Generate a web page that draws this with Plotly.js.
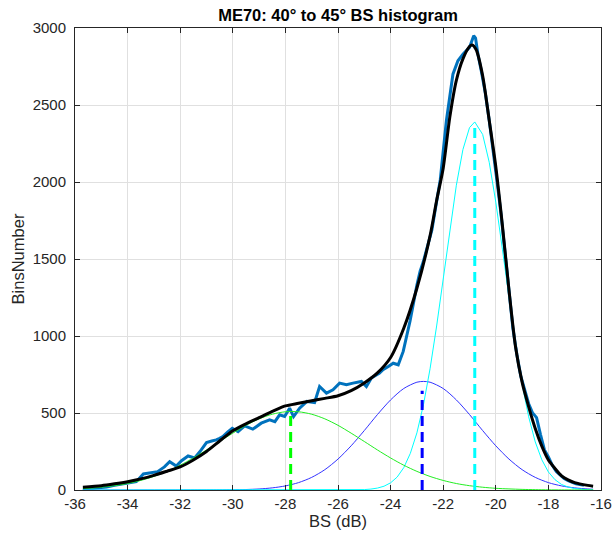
<!DOCTYPE html>
<html>
<head>
<meta charset="utf-8">
<script src="https://cdn.plot.ly/plotly-3.0.1.min.js"></script>
<style>html,body{margin:0;padding:0;background:#fff;}#chart{width:612px;height:540px;}</style>
</head>
<body>
<div id="chart"></div>
<script>
// ---- data ----
const xTickVals = [-36, -34, -32, -30, -28, -26, -24, -22, -20, -18, -16];
const xTickText = ["-36", "-34", "-32", "-30", "-28", "-26", "-24", "-22", "-20", "-18", "-16"];
const yTickVals = [0, 500, 1000, 1500, 2000, 2500, 3000];
const yTickText = ["0", "500", "1000", "1500", "2000", "2500", "3000"];

// measured BS histogram
const histX = [-35.7, -35.4, -35.1, -34.8, -34.5, -34.2, -33.9, -33.67, -33.4, -33.1,
  -32.86, -32.6, -32.4, -32.15, -31.95, -31.7, -31.45, -31.2, -31.0, -30.8,
  -30.63, -30.5, -30.38, -30.2, -30.02, -29.8, -29.55, -29.24, -28.92, -28.6,
  -28.4, -28.22, -28.03, -27.84, -27.69, -27.46, -27.18, -26.89, -26.7, -26.44,
  -26.19, -25.94, -25.68, -25.43, -25.11, -24.92, -24.73, -24.42, -24.29, -24.1,
  -23.9, -23.71, -23.52, -23.26, -23.1, -23.0, -22.88, -22.76, -22.43, -22.11,
  -21.88, -21.63, -21.44, -21.25, -21.0, -20.84, -20.77, -20.68, -20.55, -20.4,
  -20.25, -20.1, -19.95, -19.8, -19.65, -19.5, -19.35, -19.2, -19.05, -18.9,
  -18.75, -18.6, -18.45, -18.3, -18.15, -18.0, -17.85, -17.7, -17.55, -17.4,
  -17.25, -17.1, -16.95, -16.8, -16.65];
const histCount = [10, 8, 15, 20, 30, 38, 45, 54, 104, 110,
  119, 150, 184, 156, 190, 221, 208, 260, 308, 318,
  325, 336, 347, 375, 401, 379, 416, 395, 434, 455,
  444, 488, 477, 531, 477, 531, 575, 568, 672, 629,
  651, 694, 683, 694, 705, 672, 727, 759, 781, 800,
  823, 813, 900, 1097, 1250, 1330, 1420, 1480, 1688, 2017,
  2396, 2700, 2787, 2830, 2874, 2950, 2935, 2830, 2720, 2580,
  2400, 2210, 2000, 1790, 1530, 1300, 1050, 880, 740, 650,
  560, 500, 470, 360, 260, 215, 160, 120, 95, 75,
  60, 48, 40, 35, 30];

// total fitted curve
const fitX = [-35.7, -35, -34.5, -34, -33.5, -33, -32.5, -32, -31.5, -31,
  -30.5, -30, -29.5, -29, -28.5, -28, -27.5, -27, -26.5, -26,
  -25.5, -25, -24.5, -24, -23.5, -23, -22.5, -22.25, -22, -21.75,
  -21.5, -21.25, -21, -20.9, -20.75, -20.5, -20.25, -20, -19.75, -19.5,
  -19.25, -19, -18.75, -18.5, -18.25, -18, -17.75, -17.5, -17.25, -17,
  -16.5, -16.3];
const fitTotal = [18, 28, 40, 54, 72, 95, 122, 150, 195, 250,
  318, 385, 430, 470, 510, 546, 563, 580, 595, 612,
  645, 695, 760, 860, 1050, 1310, 1650, 1880, 2090, 2420,
  2660, 2800, 2880, 2890, 2860, 2690, 2400, 2100, 1720, 1300,
  930, 700, 540, 400, 285, 195, 140, 92, 66, 48,
  30, 25];

// component 1 (green)
const comp1X = [-35.7, -35.5, -35, -34.5, -34, -33.5, -33, -32.5, -32, -31.5,
  -31, -30.5, -30, -29.5, -29, -28.5, -28, -27.5, -27, -26.5,
  -26, -25.5, -25, -24.5, -24, -23.5, -23, -22.5, -22, -21.5,
  -21, -20.5, -20, -19.5, -19, -18.5, -18, -17.5, -17, -16.5, -16.3];
const comp1Y = [9, 11, 18, 28, 42, 62, 88, 121, 161, 208,
  260, 315, 369, 420, 462, 492, 508, 508, 492, 462,
  420, 369, 315, 260, 208, 161, 121, 88, 62, 42,
  28, 18, 11, 7, 4, 2.2, 1.2, 0.6, 0.3, 0.1, 0];

// component 2 (blue)
const comp2X = [-35.7, -34, -32, -31, -30.5, -30, -29.5, -29, -28.5, -28,
  -27.5, -27, -26.5, -26, -25.5, -25, -24.5, -24, -23.5, -23,
  -22.75, -22.5, -22, -21.5, -21, -20.5, -20, -19.5, -19, -18.5,
  -18, -17.5, -17, -16.5, -16.3];
const comp2Y = [0, 0, 0.05, 0.2, 0.5, 1.4, 3.1, 6.7, 13.8, 26.5,
  48, 82, 132, 201, 287, 386, 490, 585, 659, 700,
  705, 700, 659, 585, 490, 386, 287, 201, 132, 82,
  48, 26.5, 13.8, 6.7, 5];

// component 3 (cyan)
const comp3X = [-35.7, -25.5, -25, -24.75, -24.5, -24.25, -24, -23.75, -23.5, -23.25,
  -23, -22.75, -22.5, -22.25, -22, -21.75, -21.5, -21.25, -21, -20.8,
  -20.5, -20.25, -20, -19.75, -19.5, -19.25, -19, -18.75, -18.5, -18.25,
  -18, -17.75, -17.5, -17.25, -17, -16.75, -16.5, -16.3];
const comp3Y = [0, 0.5, 2.7, 5.9, 12.4, 24.6, 46.6, 84, 145, 238,
  371, 554, 787, 1065, 1374, 1689, 1979, 2211, 2353, 2390,
  2309, 2128, 1869, 1564, 1248, 949, 687, 475, 312, 196,
  117, 67, 36, 19, 9.2, 4.4, 2, 1];

// component means (dashed markers) and their heights
const modeMeans = [-27.8, -22.8, -20.8];
const modeTops = [510, 645, 2355];

// ---- styles ----
const compColors = ['#22ee22', '#3333ff', '#00ffff'];
const dashColors = ['#00ff00', '#0000ff', '#00ffff'];
const FONT = 'Liberation Sans, Arial, Helvetica, sans-serif';

const traces = [];
traces.push({x: histX, y: histCount, mode: 'lines', line: {color: '#0072BD', width: 3}, hoverinfo: 'skip'});
traces.push({x: comp2X, y: comp2Y, mode: 'lines', line: {color: compColors[1], width: 1, shape: 'spline', smoothing: 0.8}});
traces.push({x: comp3X, y: comp3Y, mode: 'lines', line: {color: compColors[2], width: 1}});
traces.push({x: comp1X, y: comp1Y, mode: 'lines', line: {color: compColors[0], width: 1, shape: 'spline', smoothing: 0.8}});
traces.push({x: fitX, y: fitTotal, mode: 'lines', line: {color: '#000000', width: 3, shape: 'spline', smoothing: 0.7}});
for (let i = 0; i < modeMeans.length; i++) {
  traces.push({x: [modeMeans[i], modeMeans[i]], y: [0, modeTops[i]], mode: 'lines',
    line: {color: dashColors[i], width: 3, dash: '10px,6px'}});
}

const axisCommon = {
  showline: true, linecolor: '#262626', linewidth: 1, mirror: 'ticks',
  ticks: 'inside', ticklen: 5, tickwidth: 1, tickcolor: '#262626',
  showgrid: true, gridcolor: '#e0e0e0', gridwidth: 1, zeroline: false,
  tickfont: {family: FONT, size: 15, color: '#262626'}
};

const layout = {
  width: 612, height: 540,
  margin: {l: 75, r: 11, t: 28, b: 50, pad: 0},
  paper_bgcolor: '#ffffff', plot_bgcolor: '#ffffff',
  showlegend: false,
  title: {text: '<b>ME70: 40° to 45° BS histogram</b>', font: {family: FONT, size: 16.5, color: '#000000'},
    xref: 'paper', x: 0.5, xanchor: 'center', yref: 'paper', y: 1, yanchor: 'bottom', pad: {b: 7}},
  xaxis: Object.assign({}, axisCommon, {
    range: [-36, -16], tickmode: 'array', tickvals: xTickVals, ticktext: xTickText,
    ticklabelstandoff: 0,
    title: {text: 'BS (dB)', font: {family: FONT, size: 16.5, color: '#262626'}, standoff: 2}
  }),
  yaxis: Object.assign({}, axisCommon, {
    range: [0, 3000], tickmode: 'array', tickvals: yTickVals, ticktext: yTickText,
    ticklabelstandoff: 5,
    title: {text: 'BinsNumber', font: {family: FONT, size: 16.5, color: '#262626'}, standoff: 3}
  })
};

Plotly.newPlot('chart', traces, layout, {staticPlot: true, displayModeBar: false});
</script>
</body>
</html>
